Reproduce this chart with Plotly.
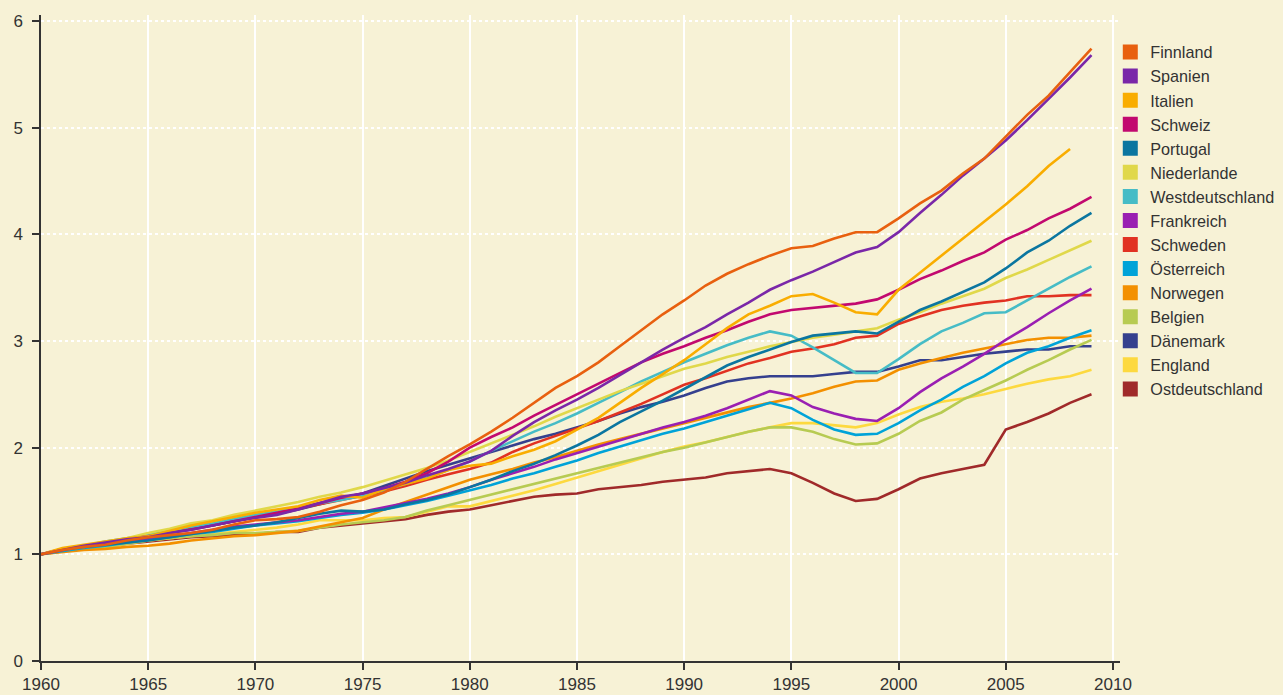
import plotly.graph_objects as go

years = list(range(1960, 2010))

finnland = [1.00, 1.04, 1.07, 1.09, 1.13, 1.16, 1.18, 1.20, 1.23, 1.28,
            1.32, 1.33, 1.35, 1.40, 1.46, 1.51, 1.58, 1.68, 1.80, 1.92,
            2.03, 2.15, 2.28, 2.42, 2.56, 2.67, 2.80, 2.95, 3.10, 3.25,
            3.38, 3.52, 3.63, 3.72, 3.80, 3.87, 3.89, 3.96, 4.02, 4.02,
            4.15, 4.29, 4.41, 4.57, 4.71, 4.92, 5.12, 5.30, 5.52, 5.74]
spanien = [1.00, 1.04, 1.08, 1.11, 1.14, 1.16, 1.20, 1.23, 1.27, 1.31,
           1.34, 1.37, 1.42, 1.48, 1.54, 1.57, 1.62, 1.67, 1.74, 1.80,
           1.87, 1.97, 2.11, 2.24, 2.35, 2.45, 2.56, 2.68, 2.80, 2.92,
           3.03, 3.13, 3.25, 3.36, 3.48, 3.57, 3.65, 3.74, 3.83, 3.88,
           4.02, 4.20, 4.37, 4.55, 4.71, 4.88, 5.07, 5.27, 5.47, 5.68]
italien = [1.00, 1.06, 1.09, 1.12, 1.15, 1.17, 1.22, 1.27, 1.31, 1.35,
           1.39, 1.42, 1.45, 1.51, 1.55, 1.53, 1.61, 1.66, 1.71, 1.79,
           1.83, 1.85, 1.92, 1.98, 2.06, 2.17, 2.28, 2.42, 2.56, 2.69,
           2.82, 2.97, 3.12, 3.25, 3.33, 3.42, 3.44, 3.36, 3.27, 3.25,
           3.48, 3.64, 3.80, 3.96, 4.12, 4.28, 4.45, 4.64, 4.80]
schweiz = [1.00, 1.05, 1.08, 1.11, 1.14, 1.17, 1.20, 1.23, 1.27, 1.31,
           1.35, 1.39, 1.43, 1.48, 1.53, 1.57, 1.62, 1.68, 1.76, 1.87,
           2.00, 2.10, 2.19, 2.30, 2.40, 2.50, 2.60, 2.70, 2.80, 2.88,
           2.95, 3.03, 3.10, 3.18, 3.25, 3.29, 3.31, 3.33, 3.35, 3.39,
           3.48, 3.58, 3.66, 3.75, 3.83, 3.95, 4.04, 4.15, 4.24, 4.35]
portugal = [1.00, 1.04, 1.07, 1.09, 1.11, 1.13, 1.16, 1.19, 1.22, 1.25,
            1.27, 1.30, 1.34, 1.38, 1.41, 1.40, 1.42, 1.47, 1.51, 1.56,
            1.63, 1.70, 1.78, 1.85, 1.93, 2.02, 2.12, 2.24, 2.34, 2.44,
            2.55, 2.66, 2.77, 2.85, 2.92, 2.99, 3.05, 3.07, 3.09, 3.07,
            3.18, 3.29, 3.37, 3.46, 3.55, 3.68, 3.83, 3.94, 4.08, 4.20]
niederlande = [1.00, 1.04, 1.07, 1.11, 1.15, 1.20, 1.24, 1.29, 1.32, 1.37,
               1.41, 1.45, 1.49, 1.54, 1.58, 1.63, 1.69, 1.75, 1.81, 1.88,
               1.96, 2.04, 2.12, 2.20, 2.29, 2.37, 2.45, 2.53, 2.60, 2.67,
               2.74, 2.79, 2.85, 2.90, 2.95, 2.99, 3.03, 3.06, 3.09, 3.12,
               3.20, 3.27, 3.35, 3.42, 3.49, 3.59, 3.67, 3.76, 3.85, 3.94]
westdeutschland = [1.00, 1.05, 1.08, 1.12, 1.15, 1.18, 1.22, 1.26, 1.29, 1.33,
                   1.37, 1.40, 1.44, 1.48, 1.51, 1.55, 1.60, 1.66, 1.72, 1.79,
                   1.87, 1.97, 2.06, 2.15, 2.23, 2.32, 2.42, 2.52, 2.62, 2.71,
                   2.80, 2.88, 2.96, 3.03, 3.09, 3.05, 2.94, 2.82, 2.70, 2.70,
                   2.83, 2.97, 3.09, 3.17, 3.26, 3.27, 3.38, 3.49, 3.60, 3.70]
frankreich = [1.00, 1.04, 1.07, 1.10, 1.12, 1.14, 1.17, 1.20, 1.23, 1.26,
              1.28, 1.30, 1.32, 1.35, 1.38, 1.40, 1.44, 1.48, 1.52, 1.57,
              1.63, 1.70, 1.76, 1.82, 1.89, 1.95, 2.01, 2.07, 2.13, 2.19,
              2.24, 2.30, 2.37, 2.45, 2.53, 2.49, 2.38, 2.32, 2.27, 2.25,
              2.37, 2.52, 2.65, 2.76, 2.88, 3.01, 3.13, 3.26, 3.38, 3.49]
schweden = [1.00, 1.04, 1.08, 1.11, 1.14, 1.17, 1.21, 1.24, 1.28, 1.31,
            1.35, 1.39, 1.43, 1.47, 1.51, 1.55, 1.59, 1.64, 1.70, 1.75,
            1.80, 1.86, 1.96, 2.04, 2.11, 2.18, 2.25, 2.33, 2.41, 2.50,
            2.59, 2.65, 2.72, 2.79, 2.84, 2.90, 2.93, 2.97, 3.03, 3.05,
            3.16, 3.23, 3.29, 3.33, 3.36, 3.38, 3.42, 3.42, 3.43, 3.43]
oesterreich = [1.00, 1.03, 1.06, 1.08, 1.11, 1.14, 1.16, 1.19, 1.21, 1.24,
               1.27, 1.29, 1.31, 1.34, 1.37, 1.39, 1.42, 1.46, 1.50, 1.55,
               1.60, 1.65, 1.71, 1.76, 1.82, 1.88, 1.95, 2.01, 2.07, 2.13,
               2.18, 2.24, 2.30, 2.36, 2.42, 2.37, 2.26, 2.17, 2.12, 2.13,
               2.23, 2.35, 2.45, 2.57, 2.67, 2.79, 2.89, 2.95, 3.03, 3.10]
norwegen = [1.00, 1.02, 1.04, 1.05, 1.07, 1.08, 1.10, 1.13, 1.15, 1.17,
            1.18, 1.20, 1.22, 1.26, 1.30, 1.34, 1.42, 1.49, 1.56, 1.63,
            1.70, 1.75, 1.80, 1.86, 1.91, 1.97, 2.03, 2.08, 2.13, 2.18,
            2.23, 2.28, 2.33, 2.38, 2.42, 2.46, 2.51, 2.57, 2.62, 2.63,
            2.73, 2.79, 2.84, 2.89, 2.93, 2.97, 3.01, 3.03, 3.03, 3.05]
belgien = [1.00, 1.03, 1.05, 1.07, 1.10, 1.13, 1.15, 1.17, 1.18, 1.20,
           1.20, 1.21, 1.22, 1.25, 1.28, 1.30, 1.32, 1.35, 1.41, 1.46,
           1.51, 1.56, 1.61, 1.66, 1.71, 1.76, 1.81, 1.86, 1.91, 1.96,
           2.00, 2.05, 2.10, 2.15, 2.19, 2.19, 2.15, 2.08, 2.03, 2.04,
           2.13, 2.25, 2.33, 2.45, 2.54, 2.63, 2.73, 2.82, 2.92, 3.01]
daenemark = [1.00, 1.05, 1.08, 1.11, 1.14, 1.17, 1.21, 1.24, 1.27, 1.31,
             1.35, 1.38, 1.42, 1.47, 1.52, 1.57, 1.64, 1.71, 1.78, 1.84,
             1.90, 1.96, 2.02, 2.08, 2.13, 2.19, 2.25, 2.32, 2.38, 2.43,
             2.49, 2.56, 2.62, 2.65, 2.67, 2.67, 2.67, 2.69, 2.71, 2.71,
             2.76, 2.82, 2.82, 2.85, 2.88, 2.90, 2.92, 2.92, 2.95, 2.95]
england = [1.00, 1.03, 1.05, 1.07, 1.10, 1.13, 1.15, 1.17, 1.19, 1.21,
           1.23, 1.25, 1.28, 1.32, 1.32, 1.32, 1.34, 1.35, 1.40, 1.45,
           1.45, 1.50, 1.55, 1.60, 1.66, 1.72, 1.78, 1.84, 1.90, 1.96,
           2.01, 2.05, 2.10, 2.15, 2.19, 2.23, 2.23, 2.21, 2.19, 2.23,
           2.31, 2.38, 2.43, 2.46, 2.50, 2.55, 2.60, 2.64, 2.67, 2.73]
ostdeutschland = [1.00, 1.03, 1.05, 1.07, 1.10, 1.12, 1.14, 1.16, 1.17, 1.18,
                  1.19, 1.21, 1.21, 1.25, 1.27, 1.29, 1.31, 1.33, 1.37, 1.40,
                  1.42, 1.46, 1.50, 1.54, 1.56, 1.57, 1.61, 1.63, 1.65, 1.68,
                  1.70, 1.72, 1.76, 1.78, 1.80, 1.76, 1.67, 1.57, 1.50, 1.52,
                  1.61, 1.71, 1.76, 1.80, 1.84, 2.17, 2.24, 2.32, 2.42, 2.50]

names = ["Finnland", "Spanien", "Italien", "Schweiz", "Portugal", "Niederlande",
         "Westdeutschland", "Frankreich", "Schweden", "Österreich", "Norwegen",
         "Belgien", "Dänemark", "England", "Ostdeutschland"]
series = [finnland, spanien, italien, schweiz, portugal, niederlande,
          westdeutschland, frankreich, schweden, oesterreich, norwegen,
          belgien, daenemark, england, ostdeutschland]
colors = ["#E8600F", "#7A27A8", "#F9AD00", "#C2096F", "#0B76A0", "#E0D84A",
          "#46BCC6", "#9A1FB2", "#E13222", "#00A3D8", "#F39000",
          "#B7CB52", "#35408E", "#FDD93F", "#A02A2A"]

fig = go.Figure()

# lines, drawn so that the first legend entry ends on top
for name, vals, col in reversed(list(zip(names, series, colors))):
    fig.add_trace(go.Scatter(
        x=years[:len(vals)], y=vals, mode="lines", name=name,
        line=dict(color=col, width=2.6), showlegend=False, hoverinfo="x+y+name"))

# legend entries as squares
for name, col in zip(names, colors):
    fig.add_trace(go.Scatter(
        x=[None], y=[None], mode="markers", name=name,
        marker=dict(symbol="square", size=15, color=col),
        showlegend=True))

bg = "#F7F2D6"
fig.update_layout(
    width=1283, height=695,
    paper_bgcolor=bg, plot_bgcolor=bg,
    margin=dict(l=41, r=163, t=15, b=34, autoexpand=False),
    font=dict(family="Liberation Sans, Arial, sans-serif", size=17, color="#333333"),
    legend=dict(x=0.991, y=0.969, xanchor="left", yanchor="top",
                bgcolor="rgba(0,0,0,0)", font=dict(size=16.2, color="#333333"),
                itemsizing="trace"),
    showlegend=True,
)
fig.update_xaxes(
    range=[1960, 2010.33], tickvals=[1960, 1965, 1970, 1975, 1980, 1985, 1990, 1995, 2000, 2005, 2010],
    showgrid=True, gridcolor="white", gridwidth=1.5,
    showline=True, linecolor="#333333", linewidth=1.5,
    ticks="outside", ticklen=7, tickcolor="#333333", tickwidth=1.5,
    zeroline=False, automargin=False, tickfont=dict(size=17, color="#333333"))
fig.update_yaxes(
    range=[0, 6.056], tickvals=[0, 1, 2, 3, 4, 5, 6],
    showgrid=True, gridcolor="white", gridwidth=2, griddash="dot",
    showline=True, linecolor="#333333", linewidth=1.5,
    ticks="outside", ticklen=7, tickcolor="#333333", tickwidth=1.5,
    ticklabelstandoff=6,
    zeroline=False, automargin=False, tickfont=dict(size=17, color="#333333"))

fig.write_html(
    "out.html",
    config={"displayModeBar": False},
    post_script="document.body.style.margin='0';document.body.style.background='%s';" % bg)
